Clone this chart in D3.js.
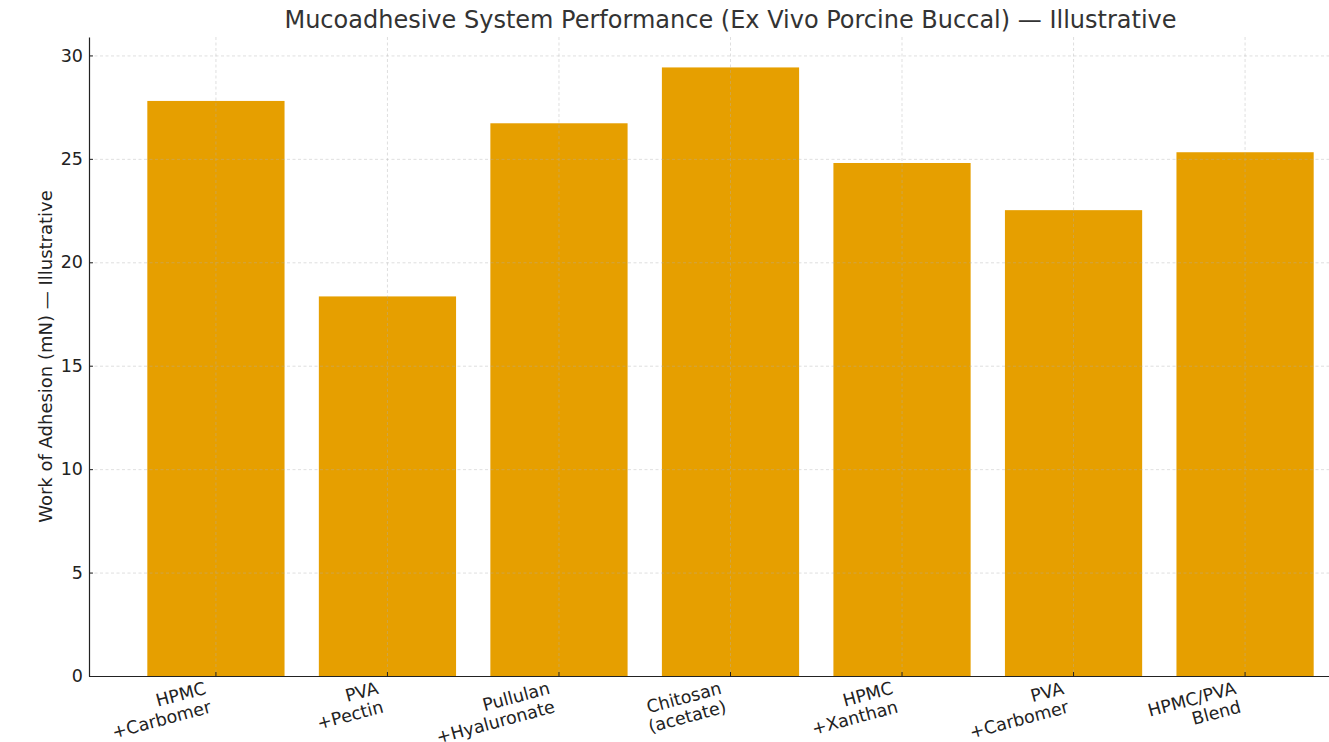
<!DOCTYPE html>
<html>
<head>
<meta charset="utf-8">
<script src="https://cdn.jsdelivr.net/npm/d3@7"></script>
<style>
  body { margin: 0; background: #fff; }
  text { font-family: "DejaVu Sans", sans-serif; }
</style>
</head>
<body>
<svg id="chart"></svg>
<script>
// Chart data
const categories = [
  "HPMC\n+Carbomer",
  "PVA\n+Pectin",
  "Pullulan\n+Hyaluronate",
  "Chitosan\n(acetate)",
  "HPMC\n+Xanthan",
  "PVA\n+Carbomer",
  "HPMC/PVA\nBlend"
];
const adhesionValues = [27.8, 18.35, 26.72, 29.42, 24.8, 22.52, 25.32];
const yTicks = [0, 5, 10, 15, 20, 25, 30];
const titleText = "Mucoadhesive System Performance (Ex Vivo Porcine Buccal) — Illustrative";
const yLabelText = "Work of Adhesion (mN) — Illustrative";

const width = 1329, height = 742;
const margin = { top: 37, left: 89, bottom: 66 };
const plotRight = 1372; // axes extends past the visible image
const plotBottom = height - margin.bottom;

const svg = d3.select("#chart")
  .attr("width", width)
  .attr("height", height);

const xScale = d3.scaleBand()
  .domain(categories)
  .range([margin.left, plotRight])
  .paddingInner(0.2)
  .paddingOuter(0.34);

const yScale = d3.scaleLinear()
  .domain([0, d3.max(adhesionValues) * 1.05])
  .range([plotBottom, margin.top]);

// Bars
svg.append("g")
  .selectAll("rect")
  .data(categories)
  .join("rect")
  .attr("x", d => xScale(d))
  .attr("y", (d, i) => yScale(adhesionValues[i]))
  .attr("width", xScale.bandwidth())
  .attr("height", (d, i) => plotBottom - yScale(adhesionValues[i]))
  .attr("fill", "#E69F00");

// Grid lines drawn above bars
const grid = svg.append("g")
  .attr("stroke", "#b0b0b0")
  .attr("stroke-opacity", 0.5)
  .attr("stroke-width", 0.8)
  .attr("stroke-dasharray", "3,2.5");

grid.selectAll(".hgrid")
  .data(yTicks)
  .join("line")
  .attr("x1", margin.left)
  .attr("x2", plotRight)
  .attr("y1", d => yScale(d) + 0.5)
  .attr("y2", d => yScale(d) + 0.5);

grid.selectAll(".vgrid")
  .data(categories)
  .join("line")
  .attr("x1", d => xScale(d) + xScale.bandwidth() / 2)
  .attr("x2", d => xScale(d) + xScale.bandwidth() / 2)
  .attr("y1", margin.top)
  .attr("y2", plotBottom);

// Y axis (ticks point inward)
const yAxisG = svg.append("g")
  .attr("transform", `translate(${margin.left},0)`)
  .call(d3.axisLeft(yScale).tickValues(yTicks).tickSize(-4).tickPadding(6).tickSizeOuter(0));
yAxisG.select(".domain").attr("stroke", "#222").attr("stroke-width", 1.2);
yAxisG.selectAll(".tick line").attr("stroke", "#222");
yAxisG.selectAll(".tick text")
  .attr("font-size", 17.5)
  .attr("fill", "#222");

// X axis
const xAxisG = svg.append("g")
  .attr("transform", `translate(0,${plotBottom})`)
  .call(d3.axisBottom(xScale).tickSize(-4).tickSizeOuter(0).tickFormat(""));
xAxisG.select(".domain").attr("stroke", "#222").attr("stroke-width", 1.2);
xAxisG.selectAll(".tick line").attr("stroke", "#222");

// Rotated two-line tick labels, right-aligned, bbox right edge near the tick
const labelG = svg.append("g");
const angle = -15 * Math.PI / 180;
categories.forEach(cat => {
  const cx = xScale(cat) + xScale.bandwidth() / 2;
  const g = labelG.append("g");
  const t = g.append("text")
    .attr("transform", "rotate(-15)")
    .attr("text-anchor", "end")
    .attr("font-size", 17.5)
    .attr("fill", "#222");
  cat.split("\n").forEach((line, j) => {
    t.append("tspan")
      .attr("x", 0)
      .attr("dy", j === 0 ? 0 : "1.1em")
      .text(line);
  });
  // bbox of the rotated text block
  const r = t.node().getBBox();
  const corners = [[r.x, r.y], [r.x + r.width, r.y], [r.x, r.y + r.height], [r.x + r.width, r.y + r.height]]
    .map(([px, py]) => [px * Math.cos(angle) - py * Math.sin(angle), px * Math.sin(angle) + py * Math.cos(angle)]);
  const maxX = d3.max(corners, c => c[0]);
  const minY = d3.min(corners, c => c[1]);
  g.attr("transform", `translate(${cx - 2 - maxX},${plotBottom + 2 - minY})`);
});

// Title
svg.append("text")
  .attr("x", (margin.left + plotRight) / 2)
  .attr("y", 28)
  .attr("text-anchor", "middle")
  .attr("font-size", 24)
  .attr("fill", "#333")
  .text(titleText);

// Y axis label
svg.append("text")
  .attr("transform", `translate(52,${(margin.top + plotBottom) / 2}) rotate(-90)`)
  .attr("text-anchor", "middle")
  .attr("font-size", 18)
  .attr("fill", "#222")
  .text(yLabelText);
</script>
</body>
</html>
